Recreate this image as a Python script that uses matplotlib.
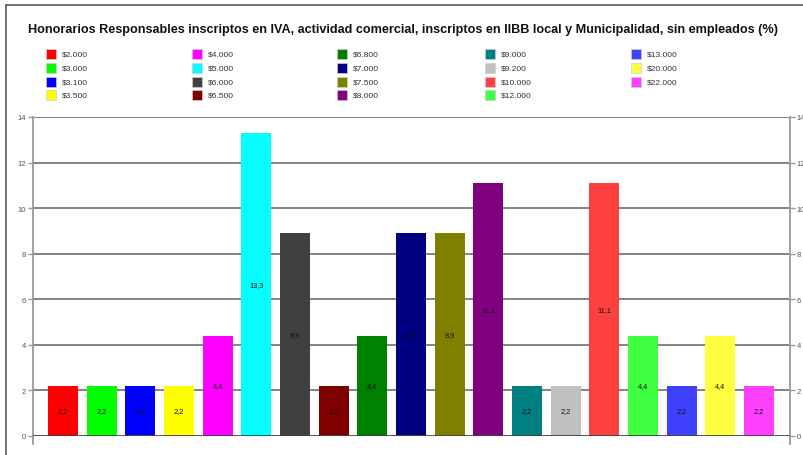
import matplotlib
matplotlib.use("Agg")
import matplotlib.pyplot as plt
from matplotlib.patches import Rectangle
from matplotlib.lines import Line2D
from matplotlib import font_manager

names = [f.name for f in font_manager.fontManager.ttflist]
narrow = "Liberation Sans Narrow" if "Liberation Sans Narrow" in names else "Liberation Sans"
plt.rcParams['font.family'] = ['Liberation Sans', 'DejaVu Sans']

title = "Honorarios Responsables inscriptos en IVA, actividad comercial, inscriptos en IIBB local y Municipalidad, sin empleados (%)"

categories = ["$2.000", "$3.000", "$3.100", "$3.500", "$4.000", "$5.000", "$6.000",
              "$6.500", "$6.800", "$7.000", "$7.500", "$8.000", "$9.000", "$9.200",
              "$10.000", "$12.000", "$13.000", "$20.000", "$22.000"]
values = [2.2, 2.2, 2.2, 2.2, 4.4, 13.3, 8.9, 2.2, 4.4, 8.9, 8.9, 11.1, 2.2, 2.2,
          11.1, 4.4, 2.2, 4.4, 2.2]
colors = ["#FF0000", "#00FF00", "#0000FF", "#FFFF00", "#FF00FF", "#00FFFF", "#404040",
          "#800000", "#008000", "#000080", "#808000", "#800080", "#008080", "#C0C0C0",
          "#FF4040", "#40FF40", "#4040FF", "#FFFF40", "#FF40FF"]
yticks = [0, 2, 4, 6, 8, 10, 12, 14]

W, H = 804, 456
fig = plt.figure(figsize=(W / 100, H / 100), dpi=100)
ax = fig.add_axes([33 / W, 1 - 437 / H, (790 - 33) / W, (437 - 118) / H])

x = list(range(len(values)))
ax.bar(x, values, width=0.78, color=colors, zorder=3)
for xi, v in zip(x, values):
    ax.text(xi, v / 2, f"{v:.1f}".replace(".", ","), ha="center", va="center",
            fontsize=5.3, color="#111111", zorder=4)

ax.set_xlim(-0.776, len(values) - 1 + 0.8)
ax.set_ylim(0, 14)
ax.set_xticks([])
ax.set_yticks(yticks)
for t in yticks[1:]:
    ax.axhline(t, color="#7a7a7a", lw=1.3, zorder=1)
ax.axhline(0, color="#444444", lw=1.3, zorder=5)

for s in ["top", "bottom"]:
    ax.spines[s].set_visible(False)
for s in ["left", "right"]:
    ax.spines[s].set_color("#999999")
    ax.spines[s].set_linewidth(1.3)
    ax.spines[s].set_bounds(-0.35, 14)
ax.tick_params(axis="y", which="both", left=True, right=True, labelleft=True,
               labelright=True, length=3.5, width=1, color="#999999",
               labelsize=5.5, labelcolor="#555555", pad=1.5)

# title and frame
fig.text(403 / W, 1 - 30 / H, title, ha="center", va="center", fontsize=9.1,
         fontweight="bold", color="#111111")
fig.add_artist(Line2D([6 / W, 6 / W], [0, 1 - 6 / H], color="#666666", lw=1.3))
fig.add_artist(Line2D([6 / W, 1], [1 - 6 / H, 1 - 6 / H], color="#666666", lw=1.3))

# legend, column-wise 4 rows
col_x = [51, 197, 342, 490, 636]
row_y = [55, 69, 83, 96]
for i, (lab, c) in enumerate(zip(categories, colors)):
    cx = col_x[i // 4]
    cy = row_y[i % 4]
    fig.add_artist(Rectangle(((cx - 5) / W, 1 - (cy + 5) / H), 10 / W, 10 / H,
                             facecolor=c, edgecolor="#cccccc", lw=0.5))
    fig.text((cx + 11) / W, 1 - cy / H, lab, ha="left", va="center",
             fontsize=6, family=narrow, color="#333333")

fig.savefig("out.png", dpi=100)
